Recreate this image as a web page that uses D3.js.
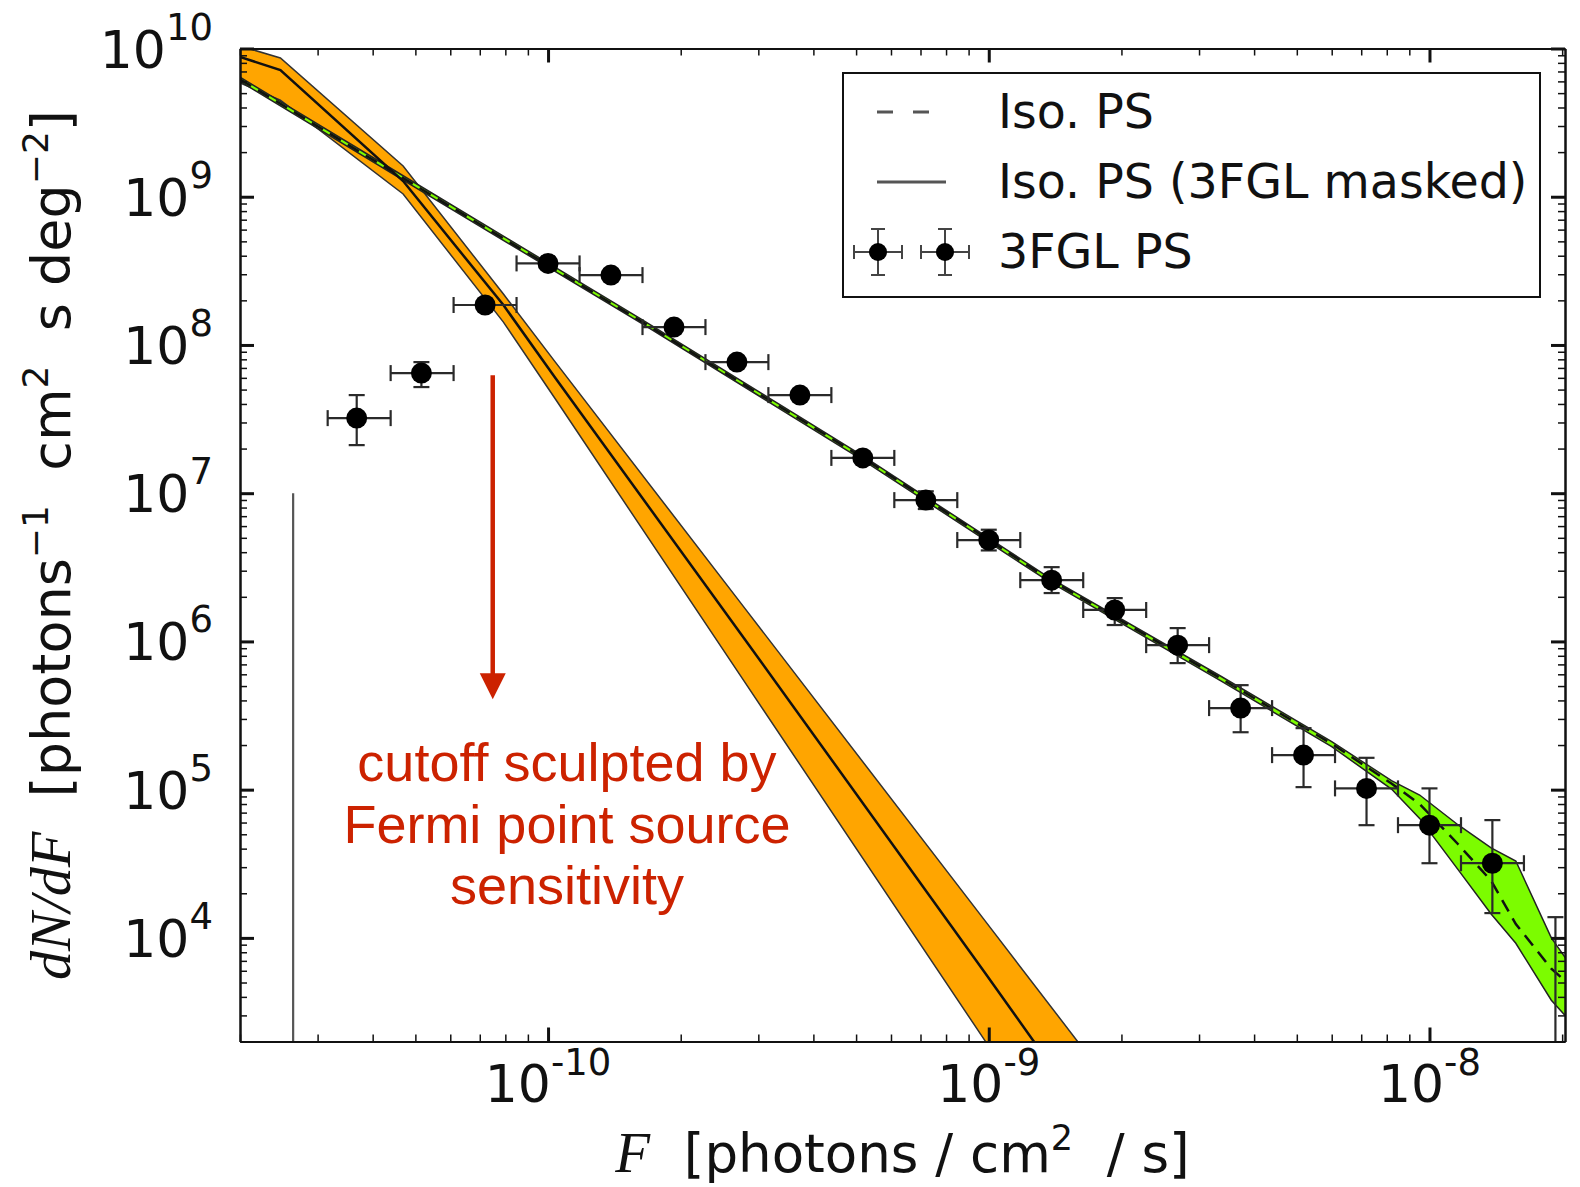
<!DOCTYPE html>
<html>
<head>
<meta charset="utf-8">
<script src="https://cdn.jsdelivr.net/npm/d3@7"></script>
<style>
  body { margin: 0; background: #fff; }
  text { white-space: pre; }
</style>
</head>
<body>
<svg id="chart" width="1580" height="1187"></svg>
<script>
// --- Iso. PS fit (green band + dashed median) ---
const greenF   = [2.0e-11, 4.7e-11, 1.63e-10, 5.2e-10, 1.36e-9, 3.37e-9, 6.0e-9, 8.2e-9, 9.5e-9, 1.16e-8, 1.38e-8, 1.57e-8, 1.89e-8, 2.05e-8];
const greenMid = [6.2e9, 1.33e9, 1.44e8, 1.72e7, 2.66e6, 5.6e5, 2.04e5, 1.10e5, 8.0e4, 4.3e4, 2.43e4, 1.24e4, 6.2e3, 5.0e3];
const greenHi  = [6.4e9, 1.38e9, 1.49e8, 1.77e7, 2.74e6, 5.8e5, 2.11e5, 1.15e5, 9.2e4, 5.8e4, 4.05e4, 3.3e4, 1.0e4, 7.1e3];
const greenLo  = [6.0e9, 1.29e9, 1.40e8, 1.66e7, 2.57e6, 5.4e5, 1.95e5, 1.01e5, 6.4e4, 2.9e4, 1.45e4, 9.2e3, 3.8e3, 2.9e3];

// --- Iso. PS (3FGL masked) fit (orange band + solid median) ---
const orangeF   = [2.0e-11, 2.47e-11, 4.69e-11, 7.92e-11, 1.039e-10, 2.805e-10, 9.82e-10, 2.326e-9];
const orangeMid = [8.76e9, 7.16e9, 1.276e9, 1.858e8, 5.98e7, 1.02e6, 5.78e3, 157];
const orangeHi  = [1.04e10, 8.63e9, 1.612e9, 2.205e8, 7.66e7, 1.652e6, 1.297e4, 459];
const orangeLo  = [5.85e9, 4.49e9, 1.043e9, 1.427e8, 4.32e7, 5.23e5, 2.01e3, 44];

// --- 3FGL PS histogram points ---
const pointF   = [3.68e-11, 5.16e-11, 7.197e-11, 1.0e-10, 1.389e-10, 1.931e-10, 2.683e-10, 3.728e-10, 5.179e-10, 7.197e-10, 1.0e-9, 1.389e-9, 1.931e-9, 2.683e-9, 3.728e-9, 5.179e-9, 7.197e-9, 1.0e-8, 1.389e-8];
const pointFLo = [3.162e-11, 4.394e-11, 6.105e-11, 8.483e-11, 1.179e-10, 1.638e-10, 2.276e-10, 3.162e-10, 4.394e-10, 6.105e-10, 8.483e-10, 1.179e-9, 1.638e-9, 2.276e-9, 3.162e-9, 4.394e-9, 6.105e-9, 8.483e-9, 1.179e-8];
const pointFHi = [4.394e-11, 6.105e-11, 8.483e-11, 1.179e-10, 1.638e-10, 2.276e-10, 3.162e-10, 4.394e-10, 6.105e-10, 8.483e-10, 1.179e-9, 1.638e-9, 2.276e-9, 3.162e-9, 4.394e-9, 6.105e-9, 8.483e-9, 1.179e-8, 1.638e-8];
const pointN   = [3.21e7, 6.46e7, 1.86e8, 3.55e8, 2.96e8, 1.32e8, 7.66e7, 4.59e7, 1.73e7, 8.98e6, 4.83e6, 2.59e6, 1.63e6, 9.44e5, 3.55e5, 1.71e5, 1.02e5, 5.76e4, 3.19e4];
const pointNHi = [4.59e7, 7.66e7, 2.0e8, 3.72e8, 3.10e8, 1.38e8, 8.12e7, 4.92e7, 1.87e7, 1.03e7, 5.67e6, 3.17e6, 1.96e6, 1.23e6, 5.07e5, 2.60e5, 1.64e5, 1.02e5, 6.23e4];
const pointNLo = [2.11e7, 5.20e7, 1.73e8, 3.39e8, 2.83e8, 1.26e8, 7.23e7, 4.28e7, 1.60e7, 7.82e6, 4.11e6, 2.12e6, 1.29e6, 7.14e5, 2.44e5, 1.04e5, 5.76e4, 3.19e4, 1.47e4];

// bins whose value falls below the axis: only the upper error bar shows
const offF    = [2.64e-11, 1.931e-8];
const offNHi  = [1.0e7, 1.38e4];

// tick labels
const yMajor = [1e4, 1e5, 1e6, 1e7, 1e8, 1e9, 1e10];
const yExp   = ["4", "5", "6", "7", "8", "9", "10"];
const xMajor = [1e-10, 1e-9, 1e-8];
const xExp   = ["-10", "-9", "-8"];

const legendLabels = ["Iso. PS", "Iso. PS (3FGL masked)", "3FGL PS"];
const noteLines = ["cutoff sculpted by", "Fermi point source", "sensitivity"];

const svg = d3.select("#chart");
const pL = 240, pR = 1565, pT = 48.5, pB = 1041.5;

const x = d3.scaleLog().domain([2e-11, 2.03e-8]).range([pL, pR]);
const y = d3.scaleLog().domain([2e3, 1e10]).range([pB, pT]);

svg.append("clipPath").attr("id", "plotClip")
  .append("rect").attr("x", pL).attr("y", pT)
  .attr("width", pR - pL).attr("height", pB - pT);

const plot = svg.append("g").attr("clip-path", "url(#plotClip)");

const band = d3.area().x(d => x(d.F)).y0(d => y(d.lo)).y1(d => y(d.hi));
const mid = d3.line().x(d => x(d.F)).y(d => y(d.mid));

const orange = orangeF.map((F, i) => ({ F, mid: orangeMid[i], lo: orangeLo[i], hi: orangeHi[i] }));
const green = greenF.map((F, i) => ({ F, mid: greenMid[i], lo: greenLo[i], hi: greenHi[i] }));

plot.append("path").datum(orange).attr("d", band)
  .attr("fill", "#ffa500").attr("stroke", "#333").attr("stroke-width", 1.5);
plot.append("path").datum(green).attr("d", band)
  .attr("fill", "#7cfc00").attr("stroke", "#222").attr("stroke-width", 1.5);
plot.append("path").datum(orange).attr("d", mid)
  .attr("fill", "none").attr("stroke", "#111").attr("stroke-width", 2.5);
plot.append("path").datum(green).attr("d", mid)
  .attr("fill", "none").attr("stroke", "#111").attr("stroke-width", 2.5)
  .attr("stroke-dasharray", "13,8");

// error bars
const cap = 8;
const pts = plot.append("g").attr("stroke", "#2a2a2a").attr("stroke-width", 2.2);
pointF.forEach((F, i) => {
  const cx = x(F), cy = y(pointN[i]);
  const x0 = x(pointFLo[i]), x1 = x(pointFHi[i]);
  const y0 = y(pointNLo[i]), y1 = y(pointNHi[i]);
  pts.append("line").attr("x1", x0).attr("x2", x1).attr("y1", cy).attr("y2", cy);
  pts.append("line").attr("x1", x0).attr("x2", x0).attr("y1", cy - cap).attr("y2", cy + cap);
  pts.append("line").attr("x1", x1).attr("x2", x1).attr("y1", cy - cap).attr("y2", cy + cap);
  pts.append("line").attr("x1", cx).attr("x2", cx).attr("y1", y0).attr("y2", y1);
  pts.append("line").attr("x1", cx - cap).attr("x2", cx + cap).attr("y1", y0).attr("y2", y0);
  pts.append("line").attr("x1", cx - cap).attr("x2", cx + cap).attr("y1", y1).attr("y2", y1);
});
plot.selectAll("circle.pt").data(pointF).join("circle").attr("class", "pt")
  .attr("cx", d => x(d)).attr("cy", (d, i) => y(pointN[i])).attr("r", 10.5)
  .attr("fill", "#000");

// the two off-scale bins
offF.forEach((F, i) => {
  const cx = x(F);
  plot.append("line").attr("x1", cx).attr("x2", cx).attr("y1", pB + 5).attr("y2", y(offNHi[i]))
    .attr("stroke", i === 0 ? "#555" : "#2a2a2a").attr("stroke-width", 2.2);
  if (i === 1) {
    plot.append("line").attr("x1", cx - cap).attr("x2", cx + cap)
      .attr("y1", y(offNHi[i])).attr("y2", y(offNHi[i]))
      .attr("stroke", "#2a2a2a").attr("stroke-width", 2.2);
  }
});

// axes: ticks inside on all four sides
const minorX = x.ticks().filter(v => !xMajor.some(m => Math.abs(m - v) / m < 1e-6));
const minorY = y.ticks().filter(v => !yMajor.some(m => Math.abs(m - v) / m < 1e-6));

function styleAxis(g, w) {
  g.selectAll(".tick line").attr("stroke", "#111").attr("stroke-width", w);
  g.selectAll(".tick text").remove();
  g.select(".domain").attr("stroke", "#111").attr("stroke-width", 2);
}
const axes = [
  [d3.axisBottom, `translate(0,${pB})`, x, xMajor, minorX],
  [d3.axisTop, `translate(0,${pT})`, x, xMajor, minorX],
  [d3.axisLeft, `translate(${pL},0)`, y, yMajor, minorY],
  [d3.axisRight, `translate(${pR},0)`, y, yMajor, minorY],
];
axes.forEach(([mk, tr, sc, major, minor]) => {
  svg.append("g").attr("transform", tr)
    .call(mk(sc).tickValues(minor).tickSize(-7).tickSizeOuter(0).tickFormat(""))
    .call(g => styleAxis(g, 1.5));
  svg.append("g").attr("transform", tr)
    .call(mk(sc).tickValues(major).tickSize(-14).tickSizeOuter(0).tickFormat(""))
    .call(g => styleAxis(g, 3));
});

// tick labels with superscript exponents
const font = "DejaVu Sans";
yMajor.forEach((v, i) => {
  const t = svg.append("text").attr("x", 213).attr("y", y(v) + 19)
    .attr("text-anchor", "end").attr("font-family", font).attr("font-size", 52).attr("fill", "#111");
  t.append("tspan").text("10");
  t.append("tspan").attr("dy", -28).attr("font-size", 37).text(yExp[i]);
});
xMajor.forEach((v, i) => {
  const t = svg.append("text").attr("x", x(v)).attr("y", 1102)
    .attr("text-anchor", "middle").attr("font-family", font).attr("font-size", 52).attr("fill", "#111");
  t.append("tspan").text("10");
  t.append("tspan").attr("dy", -27).attr("font-size", 37).text(xExp[i]);
});

// axis titles
const xl = svg.append("text").attr("x", (pL + pR) / 2).attr("y", 1172)
  .attr("text-anchor", "middle").attr("font-family", font).attr("font-size", 53).attr("fill", "#111");
xl.append("tspan").attr("font-family", "Liberation Serif").attr("font-style", "italic").attr("font-size", 57).text("F");
xl.append("tspan").text("  [photons / cm");
xl.append("tspan").attr("dy", -22).attr("font-size", 35).text("2");
xl.append("tspan").attr("dy", 22).text("  / s]");

const yl = svg.append("text").attr("transform", `translate(70,${(pT + pB) / 2}) rotate(-90)`)
  .attr("text-anchor", "middle").attr("font-family", font).attr("font-size", 54).attr("fill", "#111");
yl.append("tspan").attr("font-family", "Liberation Serif").attr("font-style", "italic").attr("font-size", 58).text("dN/dF");
yl.append("tspan").text("  [photons");
yl.append("tspan").attr("dy", -22).attr("font-size", 36).text("\u22121");
yl.append("tspan").attr("dy", 22).text("  cm");
yl.append("tspan").attr("dy", -22).attr("font-size", 36).text("2");
yl.append("tspan").attr("dy", 22).text("  s deg");
yl.append("tspan").attr("dy", -22).attr("font-size", 36).text("\u22122");
yl.append("tspan").attr("dy", 22).text("]");

// legend
const lg = svg.append("g");
lg.append("rect").attr("x", 843).attr("y", 73).attr("width", 697).attr("height", 224)
  .attr("fill", "#fff").attr("stroke", "#111").attr("stroke-width", 2);
const rowY = [112, 182, 252];
lg.append("line").attr("x1", 877).attr("x2", 931).attr("y1", rowY[0]).attr("y2", rowY[0])
  .attr("stroke", "#555").attr("stroke-width", 3).attr("stroke-dasharray", "16,20");
lg.append("line").attr("x1", 877).attr("x2", 946).attr("y1", rowY[1]).attr("y2", rowY[1])
  .attr("stroke", "#555").attr("stroke-width", 3);
[878, 945].forEach(cx => {
  const cy = rowY[2];
  const g = lg.append("g").attr("stroke", "#444").attr("stroke-width", 2);
  g.append("line").attr("x1", cx - 24).attr("x2", cx + 24).attr("y1", cy).attr("y2", cy);
  g.append("line").attr("x1", cx).attr("x2", cx).attr("y1", cy - 23).attr("y2", cy + 23);
  [-24, 24].forEach(dx => g.append("line").attr("x1", cx + dx).attr("x2", cx + dx).attr("y1", cy - 7).attr("y2", cy + 7));
  [-23, 23].forEach(dy => g.append("line").attr("x1", cx - 7).attr("x2", cx + 7).attr("y1", cy + dy).attr("y2", cy + dy));
  lg.append("circle").attr("cx", cx).attr("cy", cy).attr("r", 9).attr("fill", "#000");
});
legendLabels.forEach((s, i) => {
  lg.append("text").attr("x", 998).attr("y", rowY[i] + 16)
    .attr("font-family", font).attr("font-size", 47.5).attr("fill", "#111").text(s);
});

// annotation: red arrow and note
const red = "#cc2200";
const arrowF = 7.49e-11, arrowTop = 6.24e7, arrowTip = 4.07e5;
const ax0 = x(arrowF), ay0 = y(arrowTop), ay1 = y(arrowTip);
svg.append("line").attr("x1", ax0).attr("x2", ax0).attr("y1", ay0).attr("y2", ay1 - 20)
  .attr("stroke", red).attr("stroke-width", 4.5);
svg.append("path")
  .attr("d", `M${ax0 - 13},${ay1 - 26}L${ax0 + 13},${ay1 - 26}L${ax0},${ay1}Z`)
  .attr("fill", red);
const noteF = 1.104e-10;
noteLines.forEach((s, i) => {
  svg.append("text").attr("x", x(noteF)).attr("y", 781 + i * 61.5)
    .attr("text-anchor", "middle").attr("font-family", "Liberation Sans")
    .attr("font-size", 54).attr("fill", red).text(s);
});
</script>
</body>
</html>
